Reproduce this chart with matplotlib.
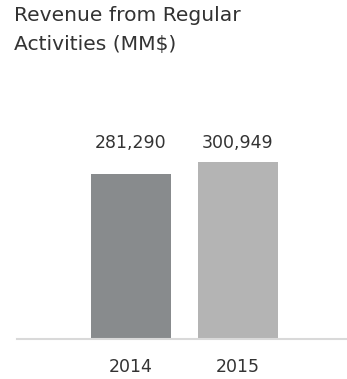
import matplotlib.pyplot as plt

years = ["2014", "2015"]
revenue = [281290, 300949]
colors = ["#888b8d", "#b4b4b4"]

plt.rcParams['font.family'] = ['DejaVu Sans']

fig = plt.figure(figsize=(3.47, 3.79), dpi=100)
ax = fig.add_axes([0.049, 0.1055, 0.951, 0.543])

x = range(len(years))
ax.bar(x, revenue, width=0.75, color=colors)

for i, v in enumerate(revenue):
    ax.text(i, 334000, f"{v:,}", ha="center", va="center", fontsize=12.5, color="#333333")

ax.set_xlim(-1.065, 2.019)
ax.set_ylim(0, 350000)
ax.set_xticks(list(x))
ax.set_xticklabels(years, fontsize=12.5, color="#333333")
ax.set_yticks([])
ax.tick_params(axis="x", length=0, pad=13.5)

for s in ["top", "right", "left"]:
    ax.spines[s].set_visible(False)
ax.spines["bottom"].set_color("#d9d9d9")
ax.spines["bottom"].set_linewidth(1.5)

fig.text(14 / 347, 1 - 6 / 379, "Revenue from Regular\nActivities (MM$)",
         ha="left", va="top", fontsize=14.6, color="#333333", linespacing=1.65)

fig.savefig("out.png", dpi=100)
